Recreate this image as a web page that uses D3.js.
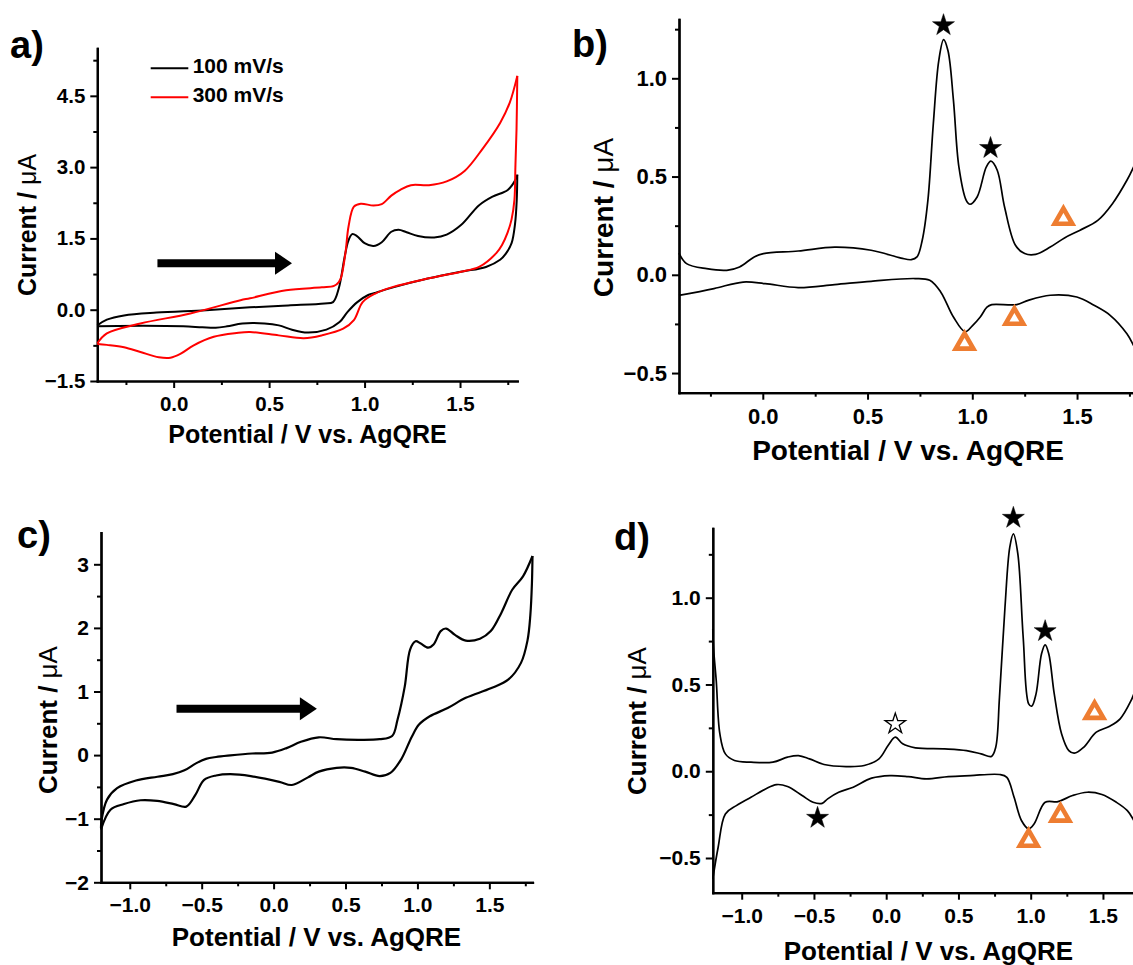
<!DOCTYPE html>
<html><head><meta charset="utf-8">
<script src="https://cdn.jsdelivr.net/npm/d3@7"></script>
<style>
body{margin:0;background:#fff}
svg{display:block}
text{font-family:"Liberation Sans",Arial,sans-serif;font-weight:bold;fill:#000}
</style>
</head><body>
<svg id="fig" width="1133" height="965"></svg>
<script>
// ---------------- DATA ----------------
// Panel a: CV at two scan rates (Potential V, Current uA)
const cvA100Fwd = [[-0.4,-0.33],[-0.35,-0.21],[-0.26,-0.12],[-0.09,-0.06],[0.17,-0.01],[0.40,0.05],[0.60,0.09],[0.79,0.13],[0.835,0.16],[0.865,0.45],[0.895,1.1],[0.915,1.45],[0.935,1.59],[0.96,1.55],[1.0,1.40],[1.047,1.34],[1.09,1.42],[1.14,1.64],[1.178,1.68],[1.22,1.63],[1.28,1.55],[1.365,1.52],[1.43,1.58],[1.505,1.78],[1.6,2.2],[1.67,2.38],[1.75,2.52],[1.795,2.77],[1.8,2.84]];
const cvA100Rev = [[1.8,2.84],[1.797,2.3],[1.788,1.8],[1.77,1.40],[1.74,1.18],[1.71,1.05],[1.636,0.90],[1.505,0.80],[1.337,0.66],[1.15,0.47],[1.06,0.36],[1.019,0.31],[0.962,0.16],[0.91,-0.05],[0.869,-0.26],[0.80,-0.42],[0.70,-0.48],[0.62,-0.42],[0.551,-0.33],[0.476,-0.29],[0.36,-0.29],[0.28,-0.35],[0.22,-0.38],[0.15,-0.37],[0.05,-0.35],[-0.16,-0.34],[-0.4,-0.35]];
const cvA300Fwd = [[-0.4,-0.71],[-0.35,-0.50],[-0.174,-0.29],[0.087,-0.08],[0.35,0.20],[0.40,0.24],[0.589,0.41],[0.776,0.47],[0.84,0.50],[0.865,0.58],[0.878,0.69],[0.90,1.2],[0.916,1.75],[0.944,2.17],[0.98,2.23],[1.047,2.19],[1.09,2.22],[1.14,2.40],[1.187,2.52],[1.243,2.62],[1.337,2.62],[1.43,2.70],[1.524,2.92],[1.617,3.38],[1.71,3.93],[1.76,4.35],[1.8,4.92]];
const cvA300Rev = [[1.8,4.92],[1.796,3.8],[1.79,3.0],[1.785,2.31],[1.77,1.9],[1.748,1.61],[1.72,1.36],[1.69,1.19],[1.6,0.90],[1.505,0.80],[1.337,0.66],[1.15,0.48],[1.056,0.34],[0.99,0.16],[0.944,-0.22],[0.888,-0.40],[0.776,-0.54],[0.682,-0.60],[0.55,-0.54],[0.40,-0.47],[0.33,-0.49],[0.21,-0.57],[0.105,-0.75],[0.035,-0.93],[-0.017,-1.01],[-0.078,-1.0],[-0.174,-0.89],[-0.26,-0.79],[-0.35,-0.74],[-0.4,-0.72]];
const legendA = ["100 mV/s","300 mV/s"];

// Panel b: DPV forward / reverse
const dpvBFwd = [[-0.4,0.11],[-0.364,0.057],[-0.268,0.031],[-0.172,0.023],[-0.111,0.040],[-0.041,0.091],[0.003,0.108],[0.169,0.121],[0.343,0.141],[0.517,0.125],[0.66,0.085],[0.709,0.077],[0.736,0.091],[0.761,0.176],[0.788,0.379],[0.814,0.77],[0.840,1.09],[0.863,1.197],[0.884,1.14],[0.910,0.888],[0.936,0.549],[0.971,0.379],[0.989,0.359],[1.023,0.396],[1.067,0.549],[1.089,0.578],[1.119,0.532],[1.154,0.345],[1.206,0.150],[1.25,0.108],[1.302,0.104],[1.372,0.141],[1.442,0.189],[1.512,0.226],[1.599,0.277],[1.669,0.362],[1.738,0.481],[1.77,0.549],[1.8,0.62]];
const dpvBRev = [[-0.4,-0.105],[-0.233,-0.070],[-0.094,-0.037],[0.011,-0.045],[0.169,-0.065],[0.343,-0.050],[0.517,-0.033],[0.727,-0.019],[0.797,-0.028],[0.849,-0.087],[0.91,-0.215],[0.966,-0.29],[1.0,-0.26],[1.038,-0.215],[1.07,-0.165],[1.093,-0.152],[1.212,-0.152],[1.267,-0.130],[1.372,-0.104],[1.499,-0.113],[1.581,-0.155],[1.658,-0.206],[1.738,-0.30],[1.77,-0.36],[1.8,-0.42]];
const starsB = [[0.8625,1.27],[1.087,0.645]];
const trianglesB = [[1.435,0.286],[1.201,-0.223],[0.963,-0.350]];

// Panel c: CV wide window
const cvCFwd = [[-1.2,-1.15],[-1.196,-1.02],[-1.158,-0.70],[-1.088,-0.52],[-0.957,-0.40],[-0.808,-0.34],[-0.70,-0.30],[-0.62,-0.24],[-0.54,-0.13],[-0.47,-0.06],[-0.40,-0.03],[-0.30,-0.005],[-0.15,0.025],[-0.01,0.04],[0.09,0.11],[0.19,0.21],[0.314,0.28],[0.438,0.25],[0.588,0.24],[0.737,0.25],[0.824,0.30],[0.862,0.56],[0.912,1.08],[0.949,1.66],[0.987,1.79],[1.02,1.76],[1.074,1.69],[1.112,1.74],[1.162,1.95],[1.199,1.99],[1.261,1.89],[1.336,1.80],[1.435,1.83],[1.51,1.95],[1.584,2.24],[1.659,2.60],[1.734,2.81],[1.8,3.13]];
const cvCRev = [[1.8,3.13],[1.796,2.7],[1.785,2.2],[1.765,1.8],[1.72,1.45],[1.633,1.19],[1.51,1.05],[1.336,0.90],[1.21,0.74],[1.086,0.61],[1.011,0.48],[0.961,0.29],[0.886,-0.07],[0.812,-0.28],[0.737,-0.33],[0.637,-0.26],[0.538,-0.20],[0.438,-0.20],[0.314,-0.26],[0.239,-0.35],[0.127,-0.47],[0.04,-0.42],[-0.159,-0.33],[-0.30,-0.30],[-0.40,-0.32],[-0.483,-0.39],[-0.545,-0.63],[-0.607,-0.81],[-0.693,-0.77],[-0.809,-0.72],[-0.925,-0.71],[-1.04,-0.77],[-1.134,-0.86],[-1.2,-1.17]];

// Panel d: DPV wide window
const dpvDFwd = [[-1.2,0.82],[-1.194,0.70],[-1.176,0.52],[-1.151,0.215],[-1.113,0.10],[-1.05,0.062],[-0.936,0.052],[-0.784,0.052],[-0.683,0.081],[-0.607,0.090],[-0.531,0.071],[-0.43,0.039],[-0.278,0.027],[-0.152,0.033],[-0.05,0.071],[0.013,0.148],[0.063,0.196],[0.114,0.158],[0.202,0.135],[0.405,0.129],[0.556,0.119],[0.657,0.10],[0.728,0.085],[0.758,0.138],[0.784,0.427],[0.822,0.945],[0.855,1.29],[0.880,1.368],[0.911,1.253],[0.948,0.772],[0.986,0.388],[1.007,0.375],[1.037,0.446],[1.075,0.677],[1.10,0.728],[1.125,0.677],[1.163,0.446],[1.214,0.215],[1.264,0.119],[1.302,0.104],[1.366,0.138],[1.454,0.225],[1.543,0.258],[1.619,0.302],[1.695,0.408],[1.714,0.446],[1.8,0.65]];
const dpvDRev = [[-1.2,-0.62],[-1.163,-0.438],[-1.113,-0.246],[-1.037,-0.198],[-0.936,-0.150],[-0.835,-0.102],[-0.759,-0.077],[-0.683,-0.088],[-0.582,-0.140],[-0.506,-0.179],[-0.443,-0.185],[-0.405,-0.159],[-0.329,-0.121],[-0.228,-0.092],[-0.101,-0.040],[0.026,-0.025],[0.152,-0.031],[0.278,-0.044],[0.43,-0.031],[0.582,-0.025],[0.784,-0.019],[0.835,-0.035],[0.885,-0.150],[0.936,-0.284],[0.986,-0.332],[1.024,-0.303],[1.10,-0.179],[1.189,-0.175],[1.29,-0.140],[1.391,-0.121],[1.493,-0.134],[1.593,-0.179],[1.669,-0.227],[1.714,-0.284],[1.8,-0.42]];
const starsD = [[0.880,1.46],[1.100,0.807],[-0.475,-0.269]];
const openStarsD = [[0.063,0.273]];
const trianglesD = [[1.442,0.337],[1.206,-0.255],[0.986,-0.40]];

// Arrows (scan direction), data coords
const arrowA = [[-0.085,0.98],[0.62,0.98]];
const arrowC = [[-0.675,0.73],[0.301,0.73]];

// Ticks
const xMajorAB = [0,0.5,1.0,1.5], xMinorAB = [-0.25,0.25,0.75,1.25,1.75];
const xMajorCD = [-1.0,-0.5,0,0.5,1.0,1.5], xMinorCD = [-0.75,-0.25,0.25,0.75,1.25,1.75];
const yMajorA = [-1.5,0,1.5,3.0,4.5], yMinorA = [-0.75,0.75,2.25,3.75,5.25];
const yMajorB = [-0.5,0,0.5,1.0], yMinorB = [-0.25,0.25,0.75,1.25];
const yMajorC = [-2,-1,0,1,2,3], yMinorC = [-1.5,-0.5,0.5,1.5,2.5];
const yMajorD = [-0.5,0,0.5,1.0], yMinorD = [-0.25,0.25,0.75,1.25];

const xTitle = "Potential / V vs. AgQRE";
const panelLabels = ["a)","b)","c)","d)"];

// ---------------- DRAW ----------------
const svg = d3.select("#fig");
const ORANGE = "#ee7d31";

function panel(cfg){
  const x = d3.scaleLinear().domain(cfg.xd).range(cfg.xr);
  const y = d3.scaleLinear().domain(cfg.yd).range(cfg.yr);
  const g = svg.append("g");
  const styleAxis = (sel, fs) => {
    sel.select(".domain").attr("stroke-width",2.2).attr("stroke-linecap","square");
    sel.selectAll(".tick line").attr("stroke-width",2);
    sel.selectAll("text").attr("font-size",fs).attr("font-family",'"Liberation Sans",Arial,sans-serif').attr("font-weight","bold").attr("fill","#000");
  };
  g.append("g").attr("transform",`translate(0,${cfg.yr[0]})`)
    .call(d3.axisBottom(x).tickValues(cfg.xMinor).tickSize(4).tickSizeOuter(0).tickFormat(""))
    .call(s=>styleAxis(s,cfg.tfs));
  g.append("g").attr("transform",`translate(${cfg.xr[0]},0)`)
    .call(d3.axisLeft(y).tickValues(cfg.yMinor).tickSize(4).tickSizeOuter(0).tickFormat(""))
    .call(s=>styleAxis(s,cfg.tfs));
  g.append("g").attr("transform",`translate(0,${cfg.yr[0]})`)
    .call(d3.axisBottom(x).tickValues(cfg.xMajor).tickSize(7).tickPadding(cfg.xPad).tickSizeOuter(0).tickFormat(d3.format(".1f")))
    .call(s=>styleAxis(s,cfg.tfs));
  g.append("g").attr("transform",`translate(${cfg.xr[0]},0)`)
    .call(d3.axisLeft(y).tickValues(cfg.yMajor).tickSize(7).tickPadding(5).tickSizeOuter(0).tickFormat(d3.format(cfg.yFmt)))
    .call(s=>styleAxis(s,cfg.tfs));
  g.append("text").attr("x",cfg.xtX).attr("y",cfg.xtY)
    .attr("text-anchor","middle").attr("font-size",cfg.afs).text(xTitle);
  const yt = g.append("text").attr("transform",`translate(${cfg.ytX},${cfg.ytY}) rotate(-90)`)
    .attr("text-anchor","middle").attr("font-size",cfg.afs);
  yt.append("tspan").text("Current / ");
  yt.append("tspan").attr("font-weight","normal").text("\u03bcA");
  g.append("text").attr("x",cfg.lab[0]).attr("y",cfg.lab[1]).attr("font-size",38).text(cfg.label);
  const line = d3.line().x(d=>x(d[0])).y(d=>y(d[1])).curve(d3.curveCatmullRom.alpha(0.5));
  cfg.series.forEach(s=>{
    g.append("path").datum(s.data).attr("d",line).attr("fill","none")
      .attr("stroke",s.color).attr("stroke-width",s.w).attr("stroke-linejoin","round");
  });
  return {g,x,y};
}

function arrow(p, a){
  const x0 = p.x(a[0][0]), x1 = p.x(a[1][0]), yy = p.y(a[0][1]);
  const hl = 17, hh = 11.5;
  p.g.append("line").attr("x1",x0).attr("x2",x1-hl+1).attr("y1",yy).attr("y2",yy)
    .attr("stroke","#000").attr("stroke-width",8);
  p.g.append("path").attr("d",`M${x1},${yy}L${x1-hl},${yy-hh}L${x1-hl},${yy+hh}Z`).attr("fill","#000");
}
function stars(p, pts, open){
  p.g.selectAll(null).data(pts).enter().append("path")
    .attr("d",d3.symbol(d3.symbolStar, open?130:150))
    .attr("transform",d=>`translate(${p.x(d[0])},${p.y(d[1])})`)
    .attr("fill",open?"#fff":"#000").attr("stroke","#000").attr("stroke-width",open?1.3:0.5);
}
function tris(p, pts){
  p.g.selectAll(null).data(pts).enter().append("path")
    .attr("d",d3.symbol(d3.symbolTriangle, 135))
    .attr("transform",d=>`translate(${p.x(d[0])},${p.y(d[1])})`)
    .attr("fill","#fff").attr("stroke",ORANGE).attr("stroke-width",4.6).attr("stroke-linejoin","miter");
}

// Panel a
const pA = panel({xd:[-0.4,1.8], xr:[97.3,517.3], yd:[-1.5,5.5], yr:[381,48.3],
  xMajor:xMajorAB, xMinor:xMinorAB, yMajor:yMajorA, yMinor:yMinorA, yFmt:".1f",
  tfs:20.5, afs:25, xPad:8, xtX:307.5, xtY:443, ytX:36, ytY:225, lab:[10,58], label:panelLabels[0],
  series:[{data:cvA100Fwd,color:"#000",w:2},{data:cvA100Rev,color:"#000",w:2},
          {data:cvA300Fwd,color:"#f00",w:2},{data:cvA300Rev,color:"#f00",w:2}]});
arrow(pA, arrowA);
[["#000",68.3,73.3],["#f00",97.3,101.7]].forEach((l,i)=>{
  pA.g.append("line").attr("x1",150.7).attr("x2",188.3).attr("y1",l[1]).attr("y2",l[1]).attr("stroke",l[0]).attr("stroke-width",2);
  pA.g.append("text").attr("x",192.7).attr("y",l[2]).attr("font-size",21).text(legendA[i]);
});

// Panel b
const pB = panel({xd:[-0.4,1.8], xr:[679,1139.9], yd:[-0.6,1.3], yr:[392.7,19.35],
  xMajor:xMajorAB, xMinor:xMinorAB, yMajor:yMajorB, yMinor:yMinorB, yFmt:".1f",
  tfs:22, afs:28, xPad:9, xtX:908, xtY:460, ytX:613, ytY:217.5, lab:[572,57], label:panelLabels[1],
  series:[{data:dpvBFwd,color:"#000",w:1.7},{data:dpvBRev,color:"#000",w:1.7}]});
stars(pB, starsB, false);
tris(pB, trianglesB);

// Panel c
const pC = panel({xd:[-1.2,1.8], xr:[101,532.5], yd:[-2,3.5], yr:[882.3,532.5],
  xMajor:xMajorCD, xMinor:xMinorCD, yMajor:yMajorC, yMinor:yMinorC, yFmt:"d",
  tfs:21, afs:26, xPad:8, xtX:316.5, xtY:946, ytX:57, ytY:720, lab:[17,548], label:panelLabels[2],
  series:[{data:cvCFwd,color:"#000",w:2.2},{data:cvCRev,color:"#000",w:2.2}]});
arrow(pC, arrowC);

// Panel d
const pD = panel({xd:[-1.2,1.8], xr:[712.8,1146.3], yd:[-0.7,1.4], yr:[892.7,528.3],
  xMajor:xMajorCD, xMinor:xMinorCD, yMajor:yMajorD, yMinor:yMinorD, yFmt:".1f",
  tfs:21, afs:26, xPad:8, xtX:928.5, xtY:960, ytX:646, ytY:721, lab:[614,550], label:panelLabels[3],
  series:[{data:dpvDFwd,color:"#000",w:1.7},{data:dpvDRev,color:"#000",w:1.7}]});
stars(pD, starsD, false);
stars(pD, openStarsD, true);
tris(pD, trianglesD);
</script>
</body></html>
